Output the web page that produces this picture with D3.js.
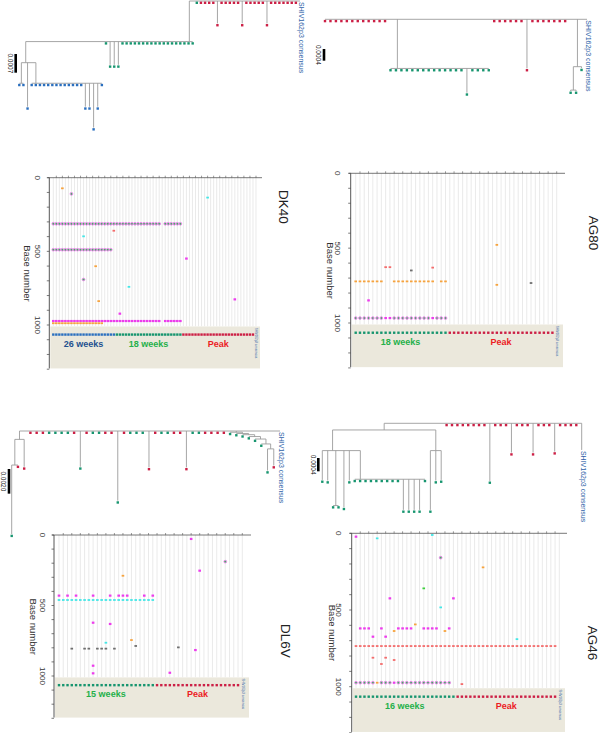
<!DOCTYPE html>
<html>
<head>
<meta charset="utf-8">
<script src="https://cdn.jsdelivr.net/npm/d3@7"></script>
<style>
body{margin:0;background:#fff}
svg{display:block;font-family:"Liberation Sans",Arial,sans-serif}
</style>
</head>
<body>
<div id="chart"></div>
<script>
const W = 600, H = 733;

// ---------- data ----------
const baseTicks = d3.range(0, 1301, 100);
const baseLabels = [0, 500, 1000];

// sequence groups in column order: [label, count, colour key]
const ag80Groups = [["18 weeks", 22, "g"], ["Peak", 25, "r"]];
const dk40Groups = [["26 weeks", 21, "b"], ["18 weeks", 22, "g"], ["Peak", 24, "r"]];
const ag46Groups = [["16 weeks", 24, "g"], ["Peak", 24, "r"]];
const dl6vGroups = [["15 weeks", 23, "g"], ["Peak", 20, "r"]];

// highlighter marks: [first column, last column, base, type]
const ag80Marks = [
  [0,6,722,"o"],[9,18,722,"o"],[20,21,722,"o"],
  [0,6,967,"h"],[7,8,967,"m"],[9,17,967,"h"],[18,18,967,"m"],[19,21,967,"h"],
  [7,8,627,"r"],[13,13,649,"k"],[18,18,630,"r"],[3,3,849,"m"],
  [33,33,478,"o"],[33,33,745,"o"],[41,41,733,"k"]
];
const dk40Marks = [
  [0,35,313,"h"],[37,42,313,"h"],[0,19,489,"h"],
  [0,35,973,"m"],[37,42,973,"m"],[0,16,988,"o"],
  [3,3,72,"o"],[6,6,110,"h"],[51,51,135,"c"],[20,20,360,"r"],[10,10,398,"c"],
  [44,44,549,"m"],[14,14,601,"o"],[10,10,691,"h"],[25,25,741,"c"],
  [15,15,838,"o"],[60,60,826,"m"],[22,22,923,"m"]
];
const ag46Marks = [
  [0,0,22,"m"],[5,5,33,"c"],[18,18,11,"c"],[20,20,159,"h"],[30,30,222,"o"],
  [16,16,359,"g"],[8,8,424,"m"],[23,23,424,"m"],[20,20,483,"c"],[38,38,690,"c"],
  [1,3,620,"m"],[6,6,620,"m"],[10,13,620,"m"],[16,19,620,"m"],[22,22,620,"m"],
  [14,14,594,"o"],[9,9,637,"o"],[21,21,637,"o"],[4,4,674,"m"],[7,7,674,"m"],
  [0,47,735,"r"],
  [4,4,811,"r"],[7,7,811,"r"],[6,6,852,"r"],[9,9,826,"r"],
  [0,4,974,"h"],[5,5,974,"o"],[6,8,974,"h"],[9,9,974,"m"],[10,22,974,"h"],
  [25,25,983,"r"]
];
const dl6vMarks = [
  [0,0,430,"m"],[2,2,430,"m"],[4,4,430,"m"],[8,8,430,"m"],[12,12,430,"m"],
  [14,16,430,"m"],[20,20,430,"m"],[22,22,430,"m"],
  [0,22,461,"c"],
  [15,15,289,"o"],[31,31,28,"m"],[39,39,189,"h"],[33,33,253,"m"],
  [8,8,622,"m"],[12,12,631,"m"],[17,17,745,"o"],[11,11,764,"c"],
  [3,3,806,"k"],[6,7,806,"k"],[9,11,806,"k"],[13,13,806,"k"],
  [18,18,787,"k"],[28,28,797,"k"],[32,32,816,"m"],
  [8,8,927,"m"],[8,8,981,"m"],[26,26,977,"m"]
];

// trees (newick). tip label = colour key, "x*n" = n identical zero-length tips,
// internal label = where the parent connector sits along the children (0..1)
const ag80Tree = "(r*12,(g*14,g:0.00083,g*4)0.07:0.00168,r*6,r:0.00168,r*7," +
  "((g:0.00003,g:0.00003):0.0008,g:0.00005):0.00162,c)";
const dk40Tree = "((((b*2):0.00077,b:0.00165,(b*13,b:0.00088,b:0.00088,b:0.00166,b:0.00088,b)0.06:0.00077)0.3:0.00079," +
  "g,g:0.00087,g:0.00087,g:0.00087,g*18)0.98:0.00152," +
  "g,r*4,r:0.00084,r*5,r:0.00084,r*5,r:0.00084,r*7,c)";
const ag46Tree = "(((g:0.00088,g:0.0009,(g,g):0.00165,g:0.0017,g:0.0009," +
  "(g*9,g:0.00092,g:0.00092,g:0.00092,g:0.00092,g)0.08:0.00086)0.27:0.00062," +
  "(g:0.00178,g:0.0009,g:0.00088):0.00062):0.0002," +
  "r*8,g:0.00173,r*3,r:0.00088,r*3,r:0.00088,r*3,r:0.00085,r*4,c:0.0008)";
const dl6vTree = "(((g:0.0056,r):0.00208,r:0.00222):0.00068," +
  "r,r,r,g,g,g,g,r,g:0.0029,r,g,g,r,r,g:0.00565,r,g,g,g,r:0.00295," +
  "r,g,g,r,r,r:0.00295,g,g,r,r,r,r," +
  "(g,(g,(g,(g,(g,(g,(g:0.00176,r:0.00135):0.0004):0.0004):0.0002):0.00015):0.0001):0.0001):0.0001," +
  "c)";

const scaleBars = {AG80: 0.0004, DK40: 0.0007, AG46: 0.0004, DL6V: 0.0020};

// ---------- styles ----------
const dotColor = {g: "#17956f", r: "#cc1f45", b: "#2a6fbf"};
const groupText = {g: "#25b04a", r: "#ec1c24", b: "#23508f"};
const markColor = {o: "#f6a33e", m: "#ec3cec", r: "#f36c6c", c: "#44e6e6", g: "#3fcf3f", k: "#6f6f6f"};
const consLabel = "SHIV162p3 consensus";

const panels = [
  {name: "AG80", groups: ag80Groups, marks: ag80Marks, tree: ag80Tree,
   hl: {ax: 350.7, y0: 173.3, y1: 323, c0: 355.7, c1: 556.7, right: 564, tx: 592.7, ty: 233, labX: 330, tickX: 337},
   tr: {t0: 325, t1: 587, root: 19.3, k: 29250, barX: 324, barY: 49}},
  {name: "DK40", groups: dk40Groups, marks: dk40Marks, tree: dk40Tree,
   hl: {ax: 49.3, y0: 177.7, y1: 325, c0: 53.3, c1: 256, right: 261, tx: 282.7, ty: 207, labX: 26.7, tickX: 37.3},
   tr: {t0: 19.3, t1: 300, root: 1, k: 26700, barX: 15.7, barY: 54}},
  {name: "AG46", groups: ag46Groups, marks: ag46Marks, tree: ag46Tree,
   hl: {ax: 351.7, y0: 533.3, y1: 686.7, c0: 356, c1: 559.3, right: 566, tx: 591.7, ty: 643, labX: 331.7, tickX: 338},
   tr: {t0: 322.3, t1: 581.7, root: 423.3, k: 33300, barX: 318.3, barY: 458}},
  {name: "DL6V", groups: dl6vGroups, marks: dl6vMarks, tree: dl6vTree,
   hl: {ax: 54, y0: 535, y1: 676, c0: 59, c1: 242.3, right: 250, tx: 285, ty: 641, labX: 32.3, tickX: 41.7},
   tr: {t0: 11.7, t1: 280, root: 431, k: 12333, barX: 9, barY: 469}}
];

const svg = d3.select("#chart").append("svg")
  .attr("width", W).attr("height", H);

// rotated text helper (reads top to bottom)
function vtext(g, x, y, str, size, anchor) {
  return g.append("text")
    .attr("transform", `translate(${x},${y}) rotate(90)`)
    .attr("text-anchor", anchor || "middle")
    .attr("dominant-baseline", "middle")
    .style("font-size", size + "px")
    .text(str);
}

// ---------- newick ----------
function parseNewick(str) {
  const s = str.replace(/\s+/g, "");
  let i = 0;
  const readTo = stop => { const st = i; while (i < s.length && !stop.includes(s[i])) i++; return s.slice(st, i); };
  const readLen = () => { if (s[i] === ":") { i++; return +readTo(",()"); } return 0; };
  function node() {
    if (s[i] === "(") {
      i++;
      const kids = [];
      while (true) {
        kids.push(...node());
        if (s[i] === ",") { i++; continue; }
        i++; break;
      }
      const lab = readTo(",():");
      const len = readLen();
      return [{children: kids, anchor: lab === "" ? 0.5 : +lab, len}];
    }
    const lab = readTo(",():");
    const len = readLen();
    const [grp, n] = lab.split("*");
    return d3.range(n ? +n : 1).map(() => ({group: grp, len}));
  }
  return node()[0];
}

function layoutTree(root) {
  let idx = 0;
  const tips = [], nodes = [];
  (function walk(n, d, parent) {
    n.depth = d + n.len;
    n.parent = parent;
    if (n.children) {
      n.children.forEach(c => walk(c, n.depth, n));
      const a = n.children[0].pos, b = n.children[n.children.length - 1].pos;
      n.pos = a + n.anchor * (b - a);
      nodes.push(n);
    } else {
      n.pos = idx++;
      tips.push(n);
    }
  })(root, 0, null);
  return {tips, nodes, n: idx};
}

// ---------- draw ----------
panels.forEach(p => {
  const L = p.hl;
  const g = svg.append("g").attr("class", "panel-" + p.name);
  const nCols = d3.sum(p.groups, d => d[1]) + 1;

  const base = d3.scaleLinear().domain([0, 1000]).range([L.y0, L.y1]);
  const col = d3.scaleLinear().domain([0, nCols - 1]).range([L.c0, L.c1]);

  // beige consensus band
  g.append("rect")
    .attr("x", L.ax + 1).attr("y", base(1010))
    .attr("width", L.right - L.ax - 2).attr("height", base(1295) - base(1010))
    .attr("fill", "#ebe8dc");

  // column grid
  g.append("g").selectAll("line").data(d3.range(nCols)).join("line")
    .attr("x1", d => col(d)).attr("x2", d => col(d))
    .attr("y1", base(0)).attr("y2", base(1008))
    .attr("stroke", "#dcdcdc").attr("stroke-width", 0.6);

  // top line with sequence ticks
  g.append("line")
    .attr("x1", L.ax - 2).attr("x2", L.right + 1)
    .attr("y1", base(0)).attr("y2", base(0))
    .attr("stroke", "#555").attr("stroke-width", 0.8);
  g.append("g").selectAll("line").data(d3.range(1, nCols, 2)).join("line")
    .attr("x1", d => col(d)).attr("x2", d => col(d))
    .attr("y1", base(0)).attr("y2", base(0) - 2)
    .attr("stroke", "#555").attr("stroke-width", 0.6);

  // base axis
  g.append("line")
    .attr("x1", L.ax).attr("x2", L.ax)
    .attr("y1", base(0)).attr("y2", base(1295))
    .attr("stroke", "#444").attr("stroke-width", 0.9);
  g.append("g").selectAll("line").data(baseTicks).join("line")
    .attr("x1", L.ax - 2.5).attr("x2", L.ax)
    .attr("y1", d => base(d)).attr("y2", d => base(d))
    .attr("stroke", "#444").attr("stroke-width", 0.7);
  baseLabels.forEach(b => vtext(g, L.tickX, base(b), b, 8).attr("fill", "#333"));
  vtext(g, L.labX, base(650), "Base number", 9.5).attr("fill", "#333");

  // title
  vtext(g, L.tx, L.ty, p.name, 13.5).attr("fill", "#222");

  // consensus row dots + group labels
  let start = 0;
  p.groups.forEach(([label, count, key]) => {
    g.append("g").selectAll("rect").data(d3.range(start, start + count)).join("rect")
      .attr("x", d => col(d) - 1.2).attr("y", base(1065) - 1.2)
      .attr("width", 2.4).attr("height", 2.4)
      .attr("fill", dotColor[key]);
    g.append("text")
      .attr("x", col(start + (count - 1) / 2)).attr("y", base(1132))
      .attr("text-anchor", "middle").attr("dominant-baseline", "middle")
      .style("font-size", "9px").style("font-weight", "bold")
      .attr("fill", groupText[key]).text(label);
    start += count;
  });
  vtext(g, col(nCols - 1), base(1018), consLabel, 3, "start").attr("fill", "#2e5fa8");

  // highlighter marks
  const marks = [];
  p.marks.forEach(([a, b, pos, t]) => d3.range(a, b + 1).forEach(c => marks.push({c, pos, t})));
  g.append("g").selectAll("rect").data(marks.filter(d => d.t !== "h")).join("rect")
    .attr("x", d => col(d.c) - 1.3)
    .attr("y", d => base(d.pos) - (d.t === "m" ? 1.1 : 0.9))
    .attr("width", 2.6).attr("height", d => d.t === "m" ? 2.2 : 1.8)
    .attr("fill", d => markColor[d.t]);
  g.append("g").selectAll("circle").data(marks.filter(d => d.t === "h")).join("circle")
    .attr("cx", d => col(d.c)).attr("cy", d => base(d.pos)).attr("r", 1.35)
    .attr("fill", "#3dbb5c").attr("stroke", "#f77df5").attr("stroke-width", 0.9);

  // ---------- tree ----------
  const T = p.tr;
  const tree = layoutTree(parseNewick(p.tree));
  const tx = d3.scaleLinear().domain([0, tree.n - 1]).range([T.t0, T.t1]);
  const ty = d3.scaleLinear().domain([0, 0.001]).range([T.root, T.root + T.k * 0.001]);
  const tg = g.append("g").attr("stroke", "#9c9c9c").attr("stroke-width", 0.9);

  tree.nodes.forEach(n => {
    const a = n.children[0].pos, b = n.children[n.children.length - 1].pos;
    tg.append("line")
      .attr("x1", tx(a)).attr("x2", tx(b))
      .attr("y1", ty(n.depth)).attr("y2", ty(n.depth));
  });
  [...tree.nodes, ...tree.tips].filter(n => n.parent).forEach(n => {
    if (n.len > 0) {
      tg.append("line")
        .attr("x1", tx(n.pos)).attr("x2", tx(n.pos))
        .attr("y1", ty(n.parent.depth)).attr("y2", ty(n.depth));
    }
  });
  g.append("g").selectAll("rect").data(tree.tips.filter(d => d.group !== "c")).join("rect")
    .attr("x", d => tx(d.pos) - 1.2).attr("y", d => ty(d.depth) + 0.6)
    .attr("width", 2.4).attr("height", 2.4)
    .attr("fill", d => dotColor[d.group]);
  tree.tips.filter(d => d.group === "c").forEach(d => {
    vtext(g, tx(d.pos) + 1, ty(d.depth) + 1, consLabel, 7, "start").attr("fill", "#2e5fa8");
  });

  // scale bar
  const barLen = ty(scaleBars[p.name]) - ty(0);
  g.append("line")
    .attr("x1", T.barX).attr("x2", T.barX)
    .attr("y1", T.barY).attr("y2", T.barY + barLen)
    .attr("stroke", "#000").attr("stroke-width", 2.6);
  vtext(g, T.barX - 6, T.barY + barLen / 2, d3.format(".4f")(scaleBars[p.name]), 6.5).attr("fill", "#111");
});
</script>
</body>
</html>
